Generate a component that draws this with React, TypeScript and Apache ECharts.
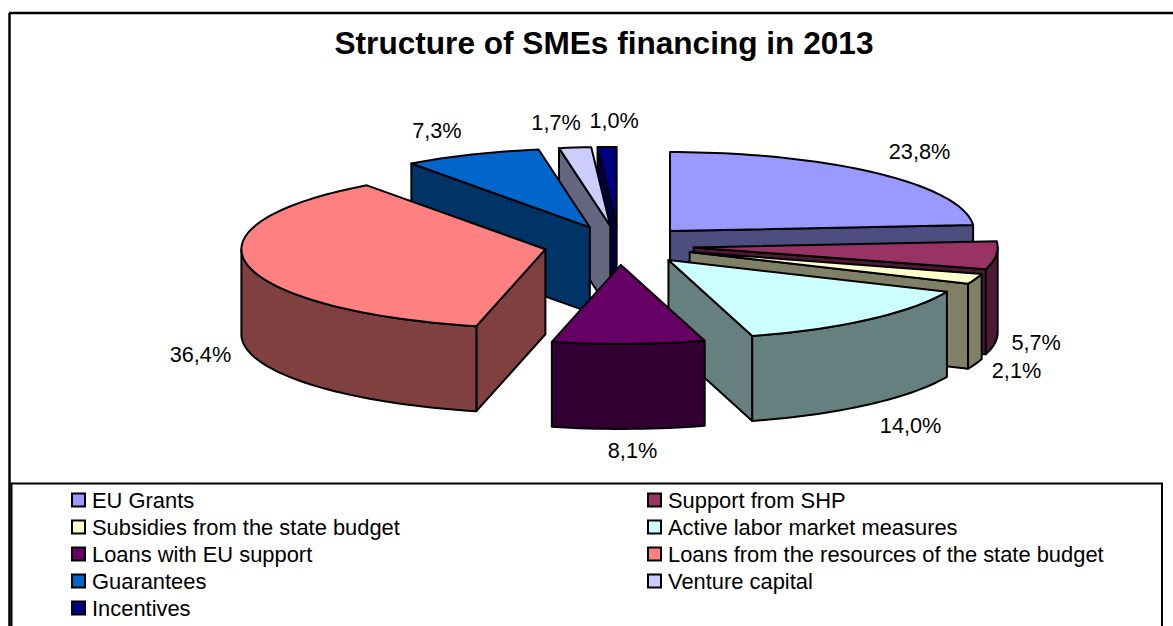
import React, { useEffect, useRef } from "react";
import * as echarts from "echarts";

const titleText = "Structure of SMEs financing in 2013";
const categories = [
  "EU Grants",
  "Support from SHP",
  "Subsidies from the state budget",
  "Active labor market measures",
  "Loans with EU support",
  "Loans from the resources of the state budget",
  "Guarantees",
  "Venture capital",
  "Incentives",
];
const shares = [23.8, 5.7, 2.1, 14.0, 8.1, 36.4, 7.3, 1.7, 1.0];
const topColors = ["#9999FF", "#993366", "#FFFFCC", "#CCFFFF", "#660066", "#FF8080", "#0066CC", "#CCCCFF", "#000080"];
const sideColors = ["#4D4D80", "#4D1A33", "#808066", "#668080", "#330033", "#804040", "#003366", "#666680", "#000040"];
// back-to-front painting order
const paintOrder = [0, 8, 7, 6, 5, 1, 2, 3, 4];
// label offset from each slice's outer rim midpoint
const labelOffsets: [number, number][] = [
  [43, -22], [40, 87], [41, 92], [42, 106], [4, 107], [-47, 90], [-35, -24], [-19, -25], [7, -26],
];
const leftLegend = [0, 2, 4, 6, 8];
const rightLegend = [1, 3, 5, 7];

const CX = 619, CY = 245.4, RX = 304, RY = 79, EXPLODE = 0.247, DEPTH = 85;
const FONT = "Liberation Sans, Arial, sans-serif";
const total = shares.reduce((a, b) => a + b, 0);
const EDGE = { stroke: "#000", lineWidth: 2, lineJoin: "round" as const };

function startFraction(idx: number) {
  let s = 0;
  for (let i = 0; i < idx; i++) s += shares[i];
  return s / total;
}

function renderSlice(idx: number) {
  return (_params: any, api: any) => {
    const value = api.value(0);
    const a0 = startFraction(idx) * Math.PI * 2;
    const a1 = a0 + (value / total) * Math.PI * 2;
    const mid = (a0 + a1) / 2;
    const ax = CX + EXPLODE * RX * Math.sin(mid);
    const ay = CY - EXPLODE * RY * Math.cos(mid);
    const rim = (t: number): [number, number] => [ax + RX * Math.sin(t), ay - RY * Math.cos(t)];
    const steps = Math.max(4, Math.ceil((a1 - a0) / 0.03));
    const arc: [number, number][] = [];
    for (let i = 0; i <= steps; i++) arc.push(rim(a0 + ((a1 - a0) * i) / steps));
    const down = (p: [number, number]): [number, number] => [p[0], p[1] + DEPTH];
    const children: any[] = [];
    const side = (pts: [number, number][]) =>
      children.push({
        type: "polygon",
        shape: { points: pts },
        style: { fill: sideColors[idx], ...EDGE },
      });
    if (Math.sin(a0) < 0) side([[ax, ay], arc[0], down(arc[0]), [ax, ay + DEPTH]]);
    if (Math.sin(a1) > 0) {
      const e = arc[arc.length - 1];
      side([[ax, ay], e, down(e), [ax, ay + DEPTH]]);
    }
    const lo = Math.max(a0, Math.PI / 2);
    const hi = Math.min(a1, (Math.PI * 3) / 2);
    if (hi > lo) {
      const front: [number, number][] = [];
      const n = Math.max(2, Math.ceil((hi - lo) / 0.03));
      for (let i = 0; i <= n; i++) front.push(rim(lo + ((hi - lo) * i) / n));
      side([...front, ...front.slice().reverse().map(down)]);
    }
    children.push({
      type: "polygon",
      shape: { points: [[ax, ay], ...arc] },
      style: { fill: topColors[idx], ...EDGE },
    });
    const [ox, oy] = labelOffsets[idx];
    children.push({
      type: "text",
      x: CX + (1 + EXPLODE) * RX * Math.sin(mid) + ox,
      y: CY - (1 + EXPLODE) * RY * Math.cos(mid) + oy,
      style: {
        text: value.toFixed(1).replace(".", ",") + "%",
        fill: "#000",
        font: `21.7px ${FONT}`,
        textAlign: "center",
        textVerticalAlign: "middle",
      },
    });
    return { type: "group", children };
  };
}

const legendOf = (items: number[], left: number) => ({
  orient: "vertical" as const,
  left,
  top: 489,
  height: 135,
  padding: 0,
  itemWidth: 13,
  itemHeight: 13,
  itemGap: 5,
  selectedMode: false,
  icon: "rect",
  textStyle: { fontFamily: FONT, fontSize: 21.9, color: "#000", padding: [0, 0, 0, 2] },
  data: items.map((i) => ({
    name: categories[i],
    icon: "rect",
    itemStyle: { color: topColors[i], borderColor: "#000", borderWidth: 2 },
  })),
});

export default function App() {
  const ref = useRef<HTMLDivElement>(null);
  useEffect(() => {
    document.body.style.margin = "0";
    document.body.style.overflow = "hidden";
    const chart = echarts.init(ref.current!, null, { renderer: "svg" });
    chart.setOption({
      animation: false,
      backgroundColor: "#fff",
      title: {
        text: titleText,
        left: 599,
        top: 22,
        textAlign: "center",
        textStyle: { fontFamily: FONT, fontSize: 31.6, fontWeight: "bold", color: "#000" },
      },
      legend: [legendOf(leftLegend, 71), legendOf(rightLegend, 647)],
      graphic: [
        { type: "line", silent: true, shape: { x1: 9, y1: 13, x2: 1173, y2: 13 }, style: { stroke: "#000", lineWidth: 2.5 } },
        { type: "line", silent: true, shape: { x1: 9.5, y1: 13, x2: 9.5, y2: 626 }, style: { stroke: "#000", lineWidth: 2.5 } },
        {
          type: "polyline",
          silent: true,
          shape: { points: [[11.5, 626], [11.5, 483.5], [1162, 483.5], [1162, 626]] },
          style: { stroke: "#000", lineWidth: 2, fill: "none" },
        },
      ],
      series: paintOrder.map((idx, order) => ({
        type: "custom",
        name: categories[idx],
        coordinateSystem: "none",
        z: 2 + order,
        silent: true,
        itemStyle: { color: topColors[idx] },
        renderItem: renderSlice(idx),
        data: [{ name: categories[idx], value: shares[idx] }],
      })),
    });
    return () => chart.dispose();
  }, []);
  return <div ref={ref} style={{ position: "absolute", left: 0, top: 0, width: 1173, height: 626 }} />;
}
